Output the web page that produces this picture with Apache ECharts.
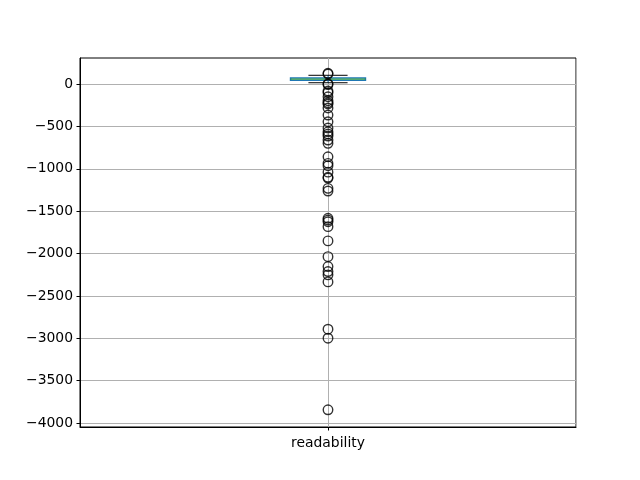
<!DOCTYPE html>
<html>
<head>
<meta charset="utf-8">
<script src="https://cdn.jsdelivr.net/npm/echarts@6/dist/echarts.min.js"></script>
<style>
html,body{margin:0;padding:0;background:#fff;}
#chart{width:640px;height:480px;}
</style>
</head>
<body>
<div id="chart"></div>
<script>
const categories = ['readability'];
// [lower whisker, Q1, median, Q3, upper whisker]
const boxStats = [15, 45, 58, 70, 103];
const outliers = [127, 118, 2, -6, -83, -102, -150, -197, -221, -236, -283, -366, -445, -519, -563, -590, -614, -661, -700, -858, -936, -964, -1040, -1100, -1110, -1231, -1263, -1584, -1605, -1625, -1683, -1851, -2037, -2154, -2213, -2252, -2335, -2893, -2999, -3844];
const yTicks = [0, -500, -1000, -1500, -2000, -2500, -3000, -3500, -4000];
const yMin = -4047, yMax = 307;

const chart = echarts.init(document.getElementById('chart'), null, {renderer: 'canvas'});
const fmt = v => String(v).replace('-', '\u2212');
const option = {
  animation: false,
  grid: {left: 80, right: 64, top: 58, bottom: 53, show: true, borderColor: '#000', borderWidth: 1, backgroundColor: 'transparent'},
  xAxis: [
    {
      type: 'category', data: categories, boundaryGap: true,
      axisLine: {show: true, onZero: false, lineStyle: {color: '#000', width: 1}},
      axisTick: {show: true, alignWithLabel: true, length: 3.5, lineStyle: {color: '#000'}},
      axisLabel: {color: '#000', fontFamily: 'DejaVu Sans', fontSize: 13.9, margin: 9},
      splitLine: {show: false}
    },
    {
      type: 'value', min: 0, max: 2, interval: 1, position: 'bottom',
      axisLine: {show: false, onZero: false}, axisTick: {show: false}, axisLabel: {show: false},
      splitLine: {show: true, lineStyle: {color: '#b0b0b0', width: 1}}
    }
  ],
  yAxis: {
    type: 'value', min: yMin, max: yMax,
    axisLine: {show: true, onZero: false, lineStyle: {color: '#000', width: 1}},
    axisTick: {show: true, length: 3.5, lineStyle: {color: '#000'}, customValues: yTicks},
    axisLabel: {color: '#000', fontFamily: 'DejaVu Sans', fontSize: 13.9, margin: 7, formatter: fmt, customValues: yTicks},
    splitLine: {show: true, lineStyle: {color: '#b0b0b0', width: 1}}
  },
  series: [
    {
      type: 'custom',
      xAxisIndex: 0,
      data: [[0].concat(boxStats)],
      z: 3,
      renderItem: function (params, api) {
        const idx = api.value(0);
        const cx = api.coord([idx, 0])[0];
        const band = api.size([1, 0])[0];
        const bw = band * 0.151, cw = band * 0.079;
        const y = i => api.coord([idx, api.value(i)])[1];
        const lo = y(1), q1 = y(2), med = y(3), q3 = y(4), hi = y(5);
        const blue = '#1f77b4';
        return {
          type: 'group',
          children: [
            {type: 'line', shape: {x1: cx, y1: q3, x2: cx, y2: hi}, style: {stroke: blue, lineWidth: 1}},
            {type: 'line', shape: {x1: cx, y1: q1, x2: cx, y2: lo}, style: {stroke: blue, lineWidth: 1}},
            {type: 'line', shape: {x1: cx - cw / 2, y1: hi, x2: cx + cw / 2, y2: hi}, style: {stroke: '#000', lineWidth: 1}},
            {type: 'line', shape: {x1: cx - cw / 2, y1: lo, x2: cx + cw / 2, y2: lo}, style: {stroke: '#000', lineWidth: 1}},
            {type: 'rect', shape: {x: cx - bw / 2, y: q3, width: bw, height: q1 - q3}, style: {stroke: blue, fill: null, lineWidth: 1.5}},
            {type: 'line', shape: {x1: cx - bw / 2, y1: med, x2: cx + bw / 2, y2: med}, style: {stroke: '#2ca02c', lineWidth: 1}}
          ]
        };
      }
    },
    {
      type: 'scatter',
      xAxisIndex: 0,
      data: outliers.map(v => [0, v]),
      symbol: 'circle',
      symbolSize: 9.5,
      z: 4,
      itemStyle: {color: 'rgba(0,0,0,0)', borderColor: '#000', borderWidth: 1.4},
      emphasis: {disabled: true}
    }
  ]
};
chart.setOption(option);
</script>
</body>
</html>
